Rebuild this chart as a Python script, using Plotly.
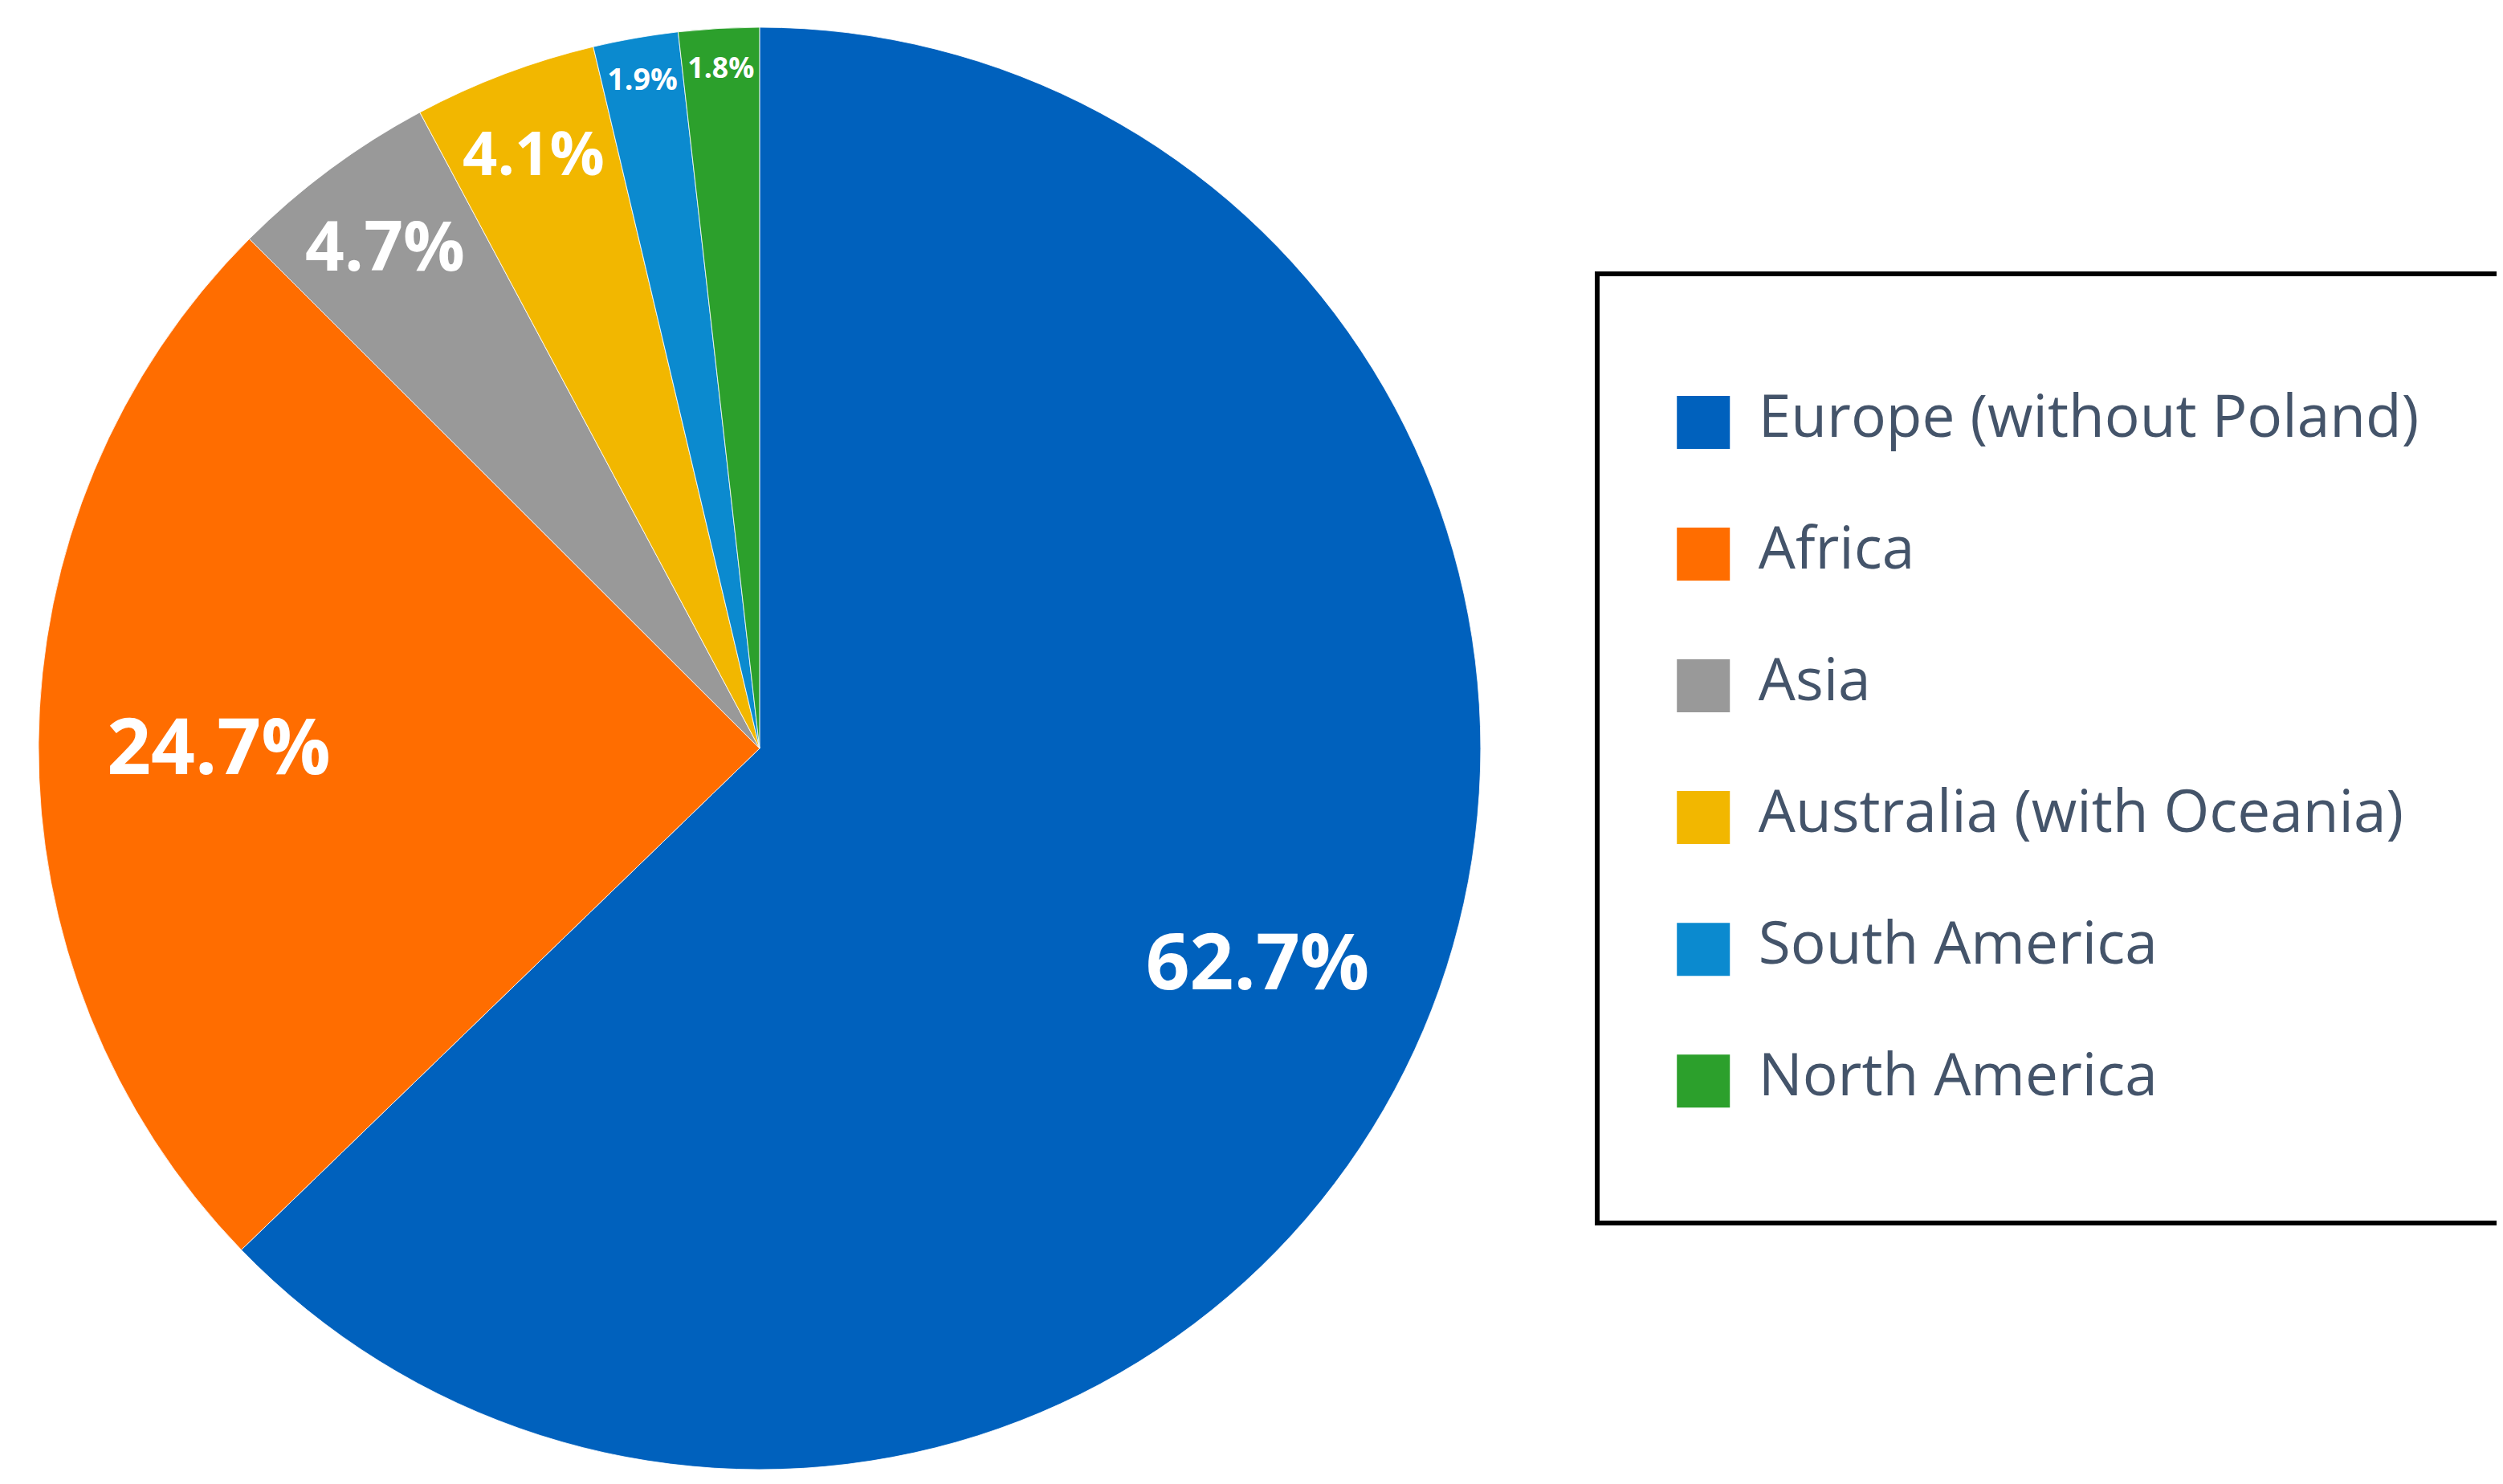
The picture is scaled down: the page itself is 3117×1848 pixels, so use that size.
import plotly.graph_objects as go

# Shares of regions (percent), clockwise from 12 o'clock
regions = ['Europe (without Poland)', 'Africa', 'Asia',
           'Australia (with Oceania)', 'South America', 'North America']
shares = [62.7, 24.7, 4.7, 4.1, 1.9, 1.8]
colors = ['#0061BD', '#FF6D00', '#999999', '#F2B700', '#0B8ACF', '#2CA02C']
label_sizes = [96, 96, 96, 80, 45, 45]

pie_domain = dict(x=[0.0128, 0.589], y=[0.014, 0.986])
labels = [f'{s}%' for s in shares]
big = [s > 20 for s in shares]

fig = go.Figure()

# filled pie, labels for the narrow slices
fig.add_trace(go.Pie(
    labels=regions,
    values=shares,
    text=['' if b else t for t, b in zip(labels, big)],
    textinfo='text',
    textposition='inside',
    insidetextorientation='horizontal',
    textfont=dict(family='Open Sans', size=label_sizes, color='white', weight='bold'),
    marker=dict(colors=colors, line=dict(color='white', width=0.8)),
    sort=False,
    direction='clockwise',
    rotation=0,
    showlegend=False,
    hoverinfo='label+text',
    domain=pie_domain,
))

# transparent ring on top so the big labels sit near the rim
fig.add_trace(go.Pie(
    labels=regions,
    values=shares,
    hole=0.5,
    text=[t if b else '' for t, b in zip(labels, big)],
    textinfo='text',
    textposition='inside',
    insidetextorientation='horizontal',
    textfont=dict(family='Open Sans', size=label_sizes, color='white', weight='bold'),
    marker=dict(colors=['rgba(0,0,0,0)'] * len(regions), line=dict(width=0)),
    sort=False,
    direction='clockwise',
    rotation=0,
    showlegend=False,
    hoverinfo='skip',
    domain=pie_domain,
))

# legend drawn as a boxed key on its own axes
fig.add_trace(go.Scatter(
    x=[0.115] * len(regions),
    y=list(range(len(regions))),
    mode='markers+text',
    marker=dict(symbol='square', size=66, color=colors),
    text=[' \u200a' + r for r in regions],
    textposition='middle right',
    textfont=dict(family='Open Sans', size=73, color='#44546A'),
    hoverinfo='skip',
    showlegend=False,
    cliponaxis=False,
))

fig.update_layout(
    width=3117,
    height=1848,
    margin=dict(l=0, r=0, t=0, b=0),
    paper_bgcolor='white',
    plot_bgcolor='white',
    xaxis=dict(domain=[0.6365, 0.9971], range=[0, 1], showgrid=False,
               zeroline=False, showticklabels=False, ticks='',
               showline=True, mirror=True, linecolor='black', linewidth=6),
    yaxis=dict(domain=[0.1818, 0.8182], range=[6.06, -1.11], showgrid=False,
               zeroline=False, showticklabels=False, ticks='',
               showline=True, mirror=True, linecolor='black', linewidth=6),
)

fig.write_html('out.html')
